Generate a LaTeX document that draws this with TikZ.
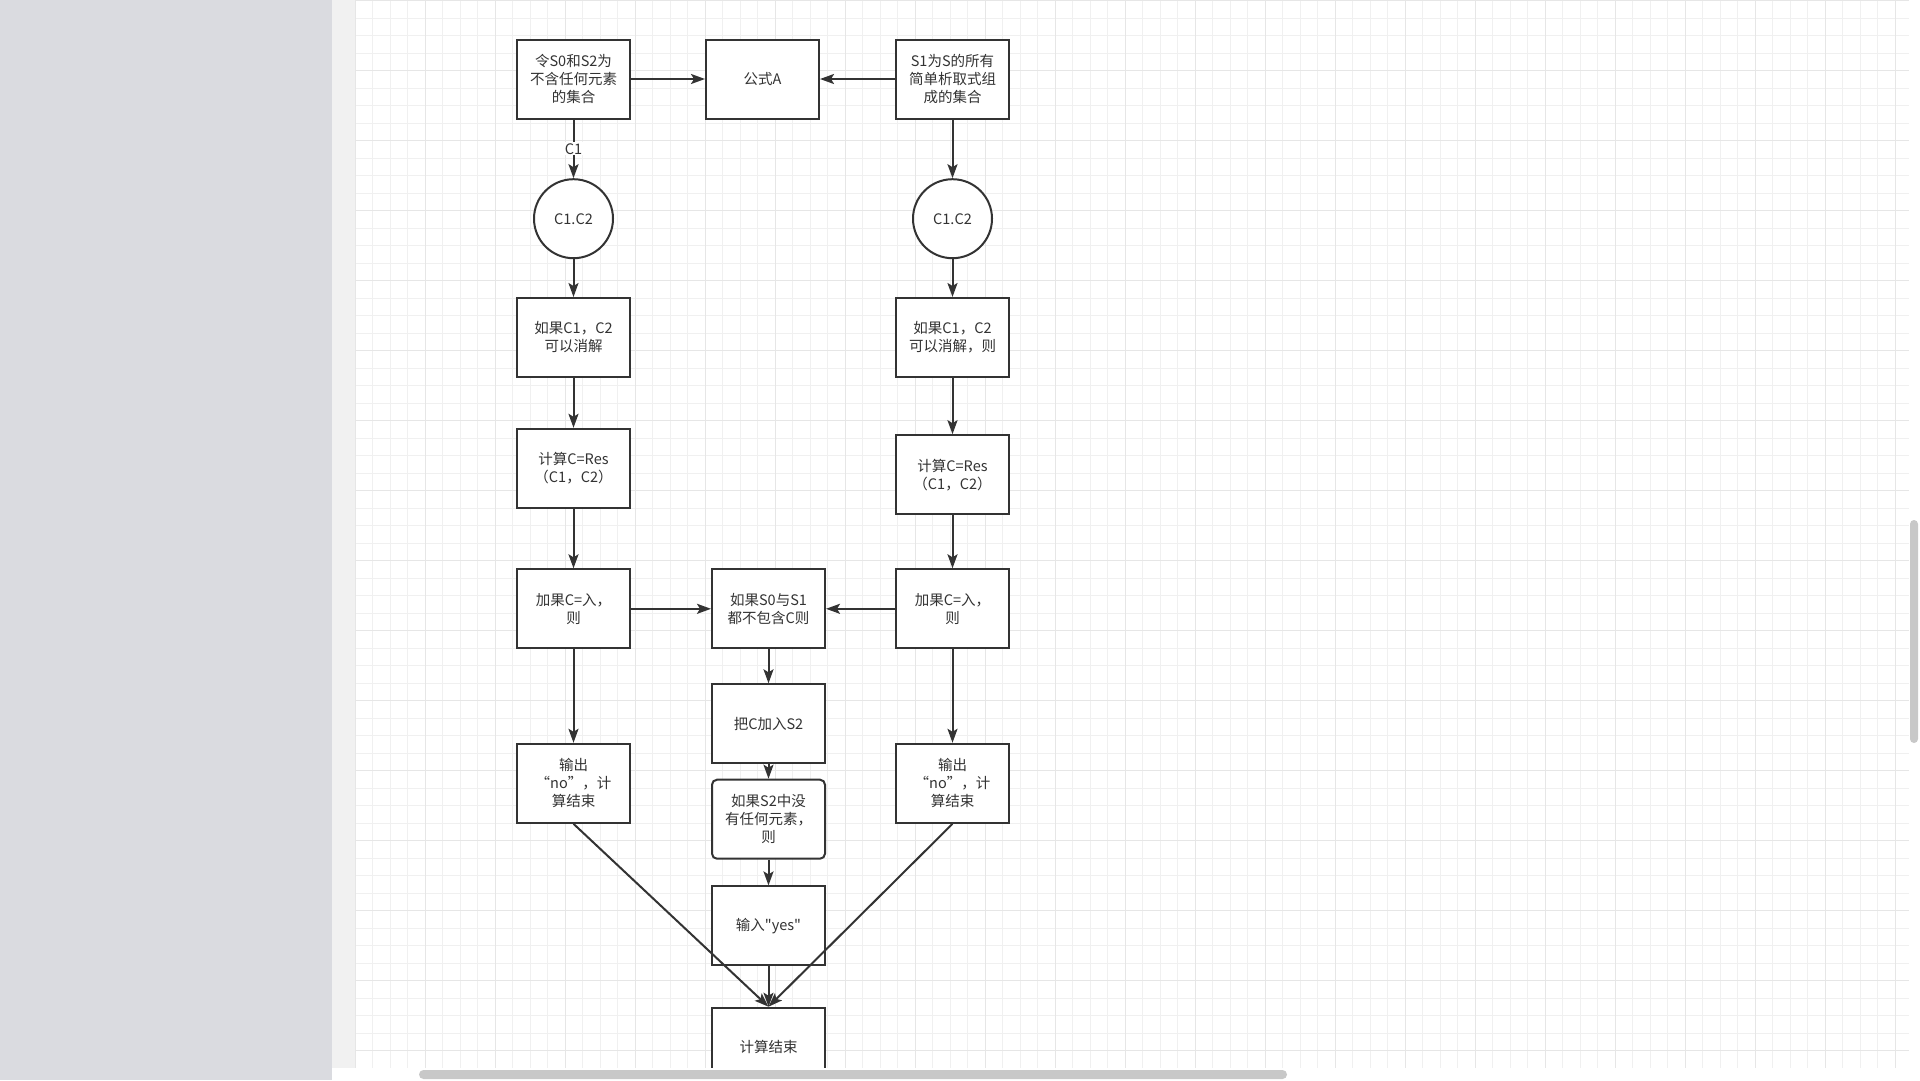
\documentclass[tikz,border=0pt]{standalone}
\usepackage{fontspec}
\newfontfamily\cjkfont{Noto Sans CJK SC}
\usetikzlibrary{arrows.meta,positioning}
\definecolor{ink}{HTML}{333333}
\definecolor{panel}{HTML}{DADBE0}
\definecolor{strip}{HTML}{F1F1F1}
\definecolor{gridminor}{HTML}{F0F0F0}
\definecolor{gridmajor}{HTML}{E6E6E6}
\definecolor{scrollbar}{HTML}{C8C8C8}

\begin{document}
\begin{tikzpicture}[x=1pt,y=-1pt]
   \tikzstyle{every node}=[font=\cjkfont\fontsize{14.5}{18}\selectfont,text=ink]
   \tikzstyle{box}=[draw=ink,line width=2pt,fill=white,minimum width=113pt,minimum height=79pt,inner sep=0pt,align=center]
   \tikzstyle{disc}=[draw=ink,line width=2pt,fill=white,circle,minimum size=79pt,inner sep=0pt]
   \tikzstyle{flow}=[draw=ink,line width=2pt,-{Stealth[length=14pt,width=10pt,inset=3pt]}]

   \useasboundingbox (0,0) rectangle (1920,1080);
   \fill [white] (0,0) rectangle (1920,1080);
   \fill [panel] (0,0) rectangle (332,1080);
   \fill [strip] (332,0) rectangle (355,1068);
   \foreach \gx in {355,372.5,...,1909} \draw [gridminor,line width=1pt] (\gx,0) -- (\gx,1068);
   \foreach \gy in {0.7,18.2,...,1068} \draw [gridminor,line width=1pt] (355,\gy) -- (1909,\gy);
   \foreach \gx in {355,425,...,1909} \draw [gridmajor,line width=1pt] (\gx,0) -- (\gx,1068);
   \foreach \gy in {0.7,70.7,...,1068} \draw [gridmajor,line width=1pt] (355,\gy) -- (1909,\gy);

   \node (init) at (573.5,79) [box] {令S0和S2为\\不含任何元素\\的集合};
   \node (formula) [box,right of=init,node distance=189pt] {公式A};
   \node (simple) [box,right of=formula,node distance=190pt] {S1为S的所有\\简单析取式组\\成的集合};

   \node (lpair) [disc,below of=init,node distance=139.7pt] {C1.C2};
   \node (lres) [box,below of=lpair,node distance=118.8pt] {如果C1，C2\\可以消解};
   \node (lcalc) [box,below of=lres,node distance=130.8pt] {计算C=Res\\（C1，C2）};
   \node (lnull) [box,below of=lcalc,node distance=140.5pt] {加果C=入，\\则};
   \node (lno) [box,below of=lnull,node distance=174.5pt] {输出\\“no”，计\\算结束};

   \node (rpair) [disc,below of=simple,node distance=139.7pt] {C1.C2};
   \node (rres) [box,below of=rpair,node distance=118.8pt] {如果C1，C2\\可以消解，则};
   \node (rcalc) [box,below of=rres,node distance=137.2pt] {计算C=Res\\（C1，C2）};
   \node (rnull) [box,below of=rcalc,node distance=134.1pt] {加果C=入，\\则};
   \node (rno) [box,below of=rnull,node distance=174.5pt] {输出\\“no”，计\\算结束};

   \node (check) [box,right of=lnull,node distance=195pt] {如果S0与S1\\都不包含C则};
   \node (addc) [box,below of=check,node distance=115pt] {把C加入S2};
   \node (empty) [box,rounded corners=5pt,below of=addc,node distance=95.4pt] {如果S2中没\\有任何元素，\\则};
   \node (yes) [box,below of=empty,node distance=106.7pt] {输入"yes"};
   \node (done) [box,below of=yes,node distance=121.3pt] {计算结束};

   \draw [flow] (init) -- (formula);
   \draw [flow] (simple) -- (formula);
   \draw [flow] (init) -- node [fill=white,inner sep=1pt] {C1} (lpair);
   \draw [flow] (simple) -- (rpair);
   \draw [flow] (lpair) -- (lres);
   \draw [flow] (rpair) -- (rres);
   \draw [flow] (lres) -- (lcalc);
   \draw [flow] (rres) -- (rcalc);
   \draw [flow] (lcalc) -- (lnull);
   \draw [flow] (rcalc) -- (rnull);
   \draw [flow] (lnull) -- (check);
   \draw [flow] (rnull) -- (check);
   \draw [flow] (lnull) -- (lno);
   \draw [flow] (rnull) -- (rno);
   \draw [flow] (check) -- (addc);
   \draw [flow] (addc) -- (empty);
   \draw [flow] (empty) -- (yes);
   \draw [flow] (yes) -- (done);
   \draw [flow] (lno.south) -- (done.north);
   \draw [flow] (rno.south) -- (done.north);

   \fill [white] (332,1068) rectangle (1925,1095);
   \fill [scrollbar,rounded corners=4.5pt] (419,1070) rectangle (1287,1079);
   \fill [scrollbar,rounded corners=4pt] (1910,520) rectangle (1918,743);
\end{tikzpicture}
\end{document}
